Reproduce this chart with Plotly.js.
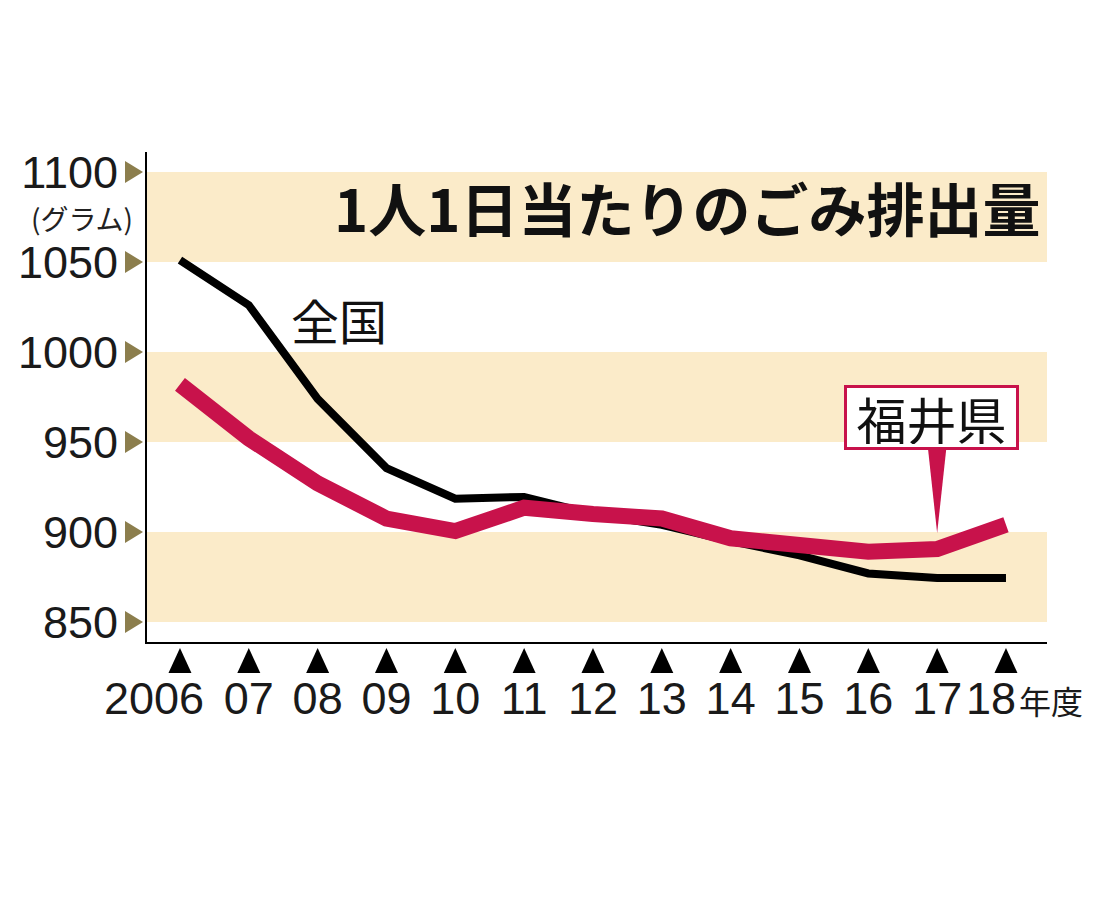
<!DOCTYPE html>
<html>
<head>
<meta charset="utf-8">
<script src="https://cdn.plot.ly/plotly-3.0.1.min.js"></script>
<style>html,body{margin:0;padding:0;background:#fff;}#chart{width:1100px;height:900px;}</style>
</head>
<body>
<div id="chart"></div>
<script>
// ---- data ----
const years = [2006, 2007, 2008, 2009, 2010, 2011, 2012, 2013, 2014, 2015, 2016, 2017, 2018];
const xTickText = ["2006", "07", "08", "09", "10", "11", "12", "13", "14", "15", "16", "17", "18"];
const xUnit = "年度";
const nationalName = "全国";
const nationalValues = [1051, 1026, 974, 935.5, 918.5, 919.5, 910, 904, 895, 887, 877, 874.5, 874.5];
const fukuiName = "福井県";
const fukuiValues = [982, 952, 927, 907.5, 900.5, 913.5, 910, 907.5, 896.5, 892.5, 889, 890.5, 904];
const yTickVals = [850, 900, 950, 1000, 1050, 1100];
const yTickText = ["850", "900", "950", "1000", "1050", "1100"];
const yUnit = "(グラム)";
const bands = [[850, 900], [950, 1000], [1050, 1100]];
const chartTitle = "1人1日当たりのごみ排出量";
const calloutYear = 2017;

// ---- styling ----
const JP_FONT = "'Noto Sans CJK JP', 'Noto Sans', sans-serif";
const NUM_FONT = {family: "'Liberation Sans', Arial, sans-serif", size: 45, color: "#1a1a1a"};
const RED = "#C8124B";
const BAND = "#FBEBC9";
const OLIVE = "#8C7E4D";
const xRange = [2005.521, 2018.596];
const yRange = [838.9, 1111.1];
const pxX = 900 / (xRange[1] - xRange[0]);
// label nudges (pixels) as laid out in the reference: the first and last labels sit left of their pointer
const labelNudge = years.map((y, i) => i === 0 ? -26 : (i === years.length - 1 ? -15 : 0));
const xLabelPos = years.map((y, i) => y + labelNudge[i] / pxX);

const traces = [
  {x: years, y: nationalValues, name: nationalName, type: "scatter", mode: "lines",
   line: {color: "#000", width: 8}, hoverinfo: "skip"},
  {x: years, y: fukuiValues, name: fukuiName, type: "scatter", mode: "lines",
   line: {color: RED, width: 16}, hoverinfo: "skip"}
];

const shapes = bands.map(b => ({
  type: "rect", xref: "paper", yref: "y", x0: 0, x1: 1, y0: b[0], y1: b[1],
  fillcolor: BAND, line: {width: 0}, layer: "below"
}));
years.forEach(yv => shapes.push({
  type: "path", xref: "x", yref: "paper", xsizemode: "pixel", ysizemode: "pixel",
  xanchor: yv, yanchor: 0, path: "M 0,-6 L 11.5,-31 L -11.5,-31 Z",
  fillcolor: "#000", line: {width: 0}
}));
yTickVals.forEach(v => shapes.push({
  type: "path", xref: "paper", yref: "y", xsizemode: "pixel", ysizemode: "pixel",
  xanchor: 0, yanchor: v, path: "M -4,0 L -22,11 L -22,-11 Z",
  fillcolor: OLIVE, line: {width: 0}
}));
const ci = years.indexOf(calloutYear);
shapes.push({
  type: "path", xref: "x", yref: "y", xsizemode: "pixel", ysizemode: "pixel",
  xanchor: years[ci], yanchor: fukuiValues[ci],
  path: "M -9,99 L 9,99 L 0,16 Z", fillcolor: RED, line: {width: 0}, layer: "above"
});

const annotations = [];
annotations.push({xref: "paper", yref: "paper", x: 0.994, y: 0.888, xanchor: "right", yanchor: "middle",
  text: chartTitle, showarrow: false, font: {family: JP_FONT, size: 58, color: "#111", weight: 700}});
annotations.push({xref: "paper", yref: "y", x: 0, xshift: -12, y: 1074.7, xanchor: "right", yanchor: "middle",
  text: yUnit, showarrow: false, font: {family: JP_FONT, size: 28, color: "#222"}});
annotations.push({xref: "x", yref: "y", x: 2008.31, y: 1018.3, xanchor: "center", yanchor: "middle",
  text: nationalName, showarrow: false, font: {family: JP_FONT, size: 48, color: "#111"}});
annotations.push({xref: "x", yref: "y", x: years[ci], y: fukuiValues[ci], xshift: -5.5, yshift: 131.5,
  xanchor: "center", yanchor: "middle", text: fukuiName, showarrow: false,
  width: 163, height: 53, borderpad: 3, borderwidth: 3, bordercolor: RED, bgcolor: "#fff",
  font: {family: JP_FONT, size: 50, color: "#111"}});
annotations.push({xref: "x", yref: "paper", x: years[years.length - 1], xshift: 11, y: 0, yshift: -58,
  xanchor: "left", yanchor: "middle", text: xUnit, showarrow: false,
  font: {family: JP_FONT, size: 32, color: "#1a1a1a"}});

const layout = {
  width: 1100, height: 900,
  margin: {l: 147, r: 53, t: 152, b: 258},
  paper_bgcolor: "#fff", plot_bgcolor: "#fff",
  showlegend: false,
  xaxis: {range: xRange, showgrid: false, zeroline: false,
    showline: true, linecolor: "#000", linewidth: 2, ticks: "", tickangle: 0,
    tickmode: "array", tickvals: xLabelPos, ticktext: xTickText, ticklabelstandoff: 16,
    tickfont: NUM_FONT},
  yaxis: {range: yRange, showgrid: false, zeroline: false,
    showline: true, linecolor: "#000", linewidth: 2, ticks: "",
    tickmode: "array", tickvals: yTickVals, ticktext: yTickText, ticklabelstandoff: 18,
    tickfont: NUM_FONT},
  shapes: shapes,
  annotations: annotations
};

Plotly.newPlot("chart", traces, layout, {staticPlot: true, displayModeBar: false});
</script>
</body>
</html>
